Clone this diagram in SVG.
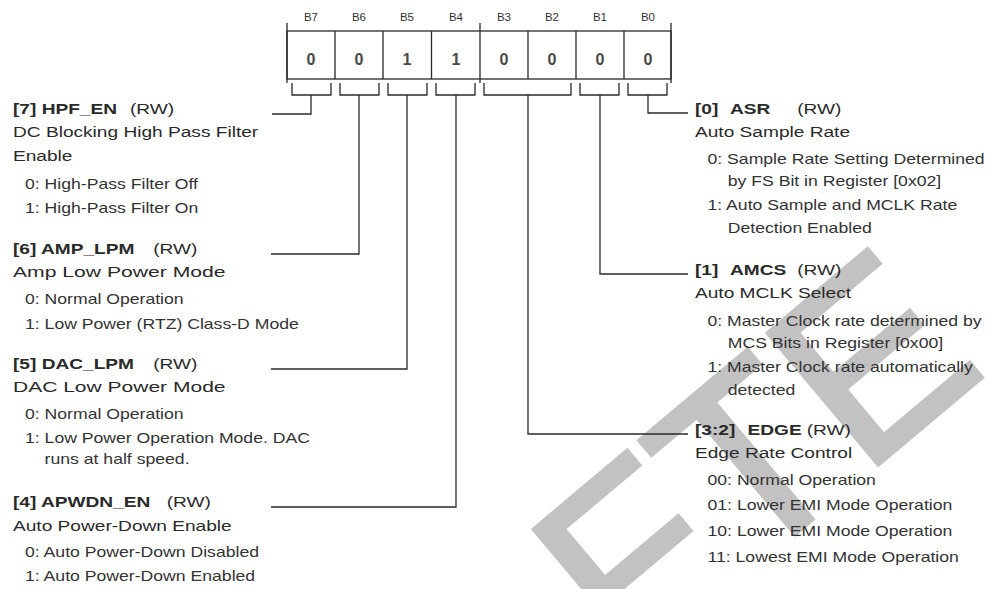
<svg xmlns="http://www.w3.org/2000/svg" width="988" height="589" viewBox="0 0 988 589">
<style>
text{font-family:"Liberation Sans",Arial,sans-serif;fill:#2a2a2a}
.m{font-size:15.3px}
.b{font-weight:bold}
.o{font-size:14.1px;fill:#333}
.bl{font-size:11.5px;text-anchor:middle;fill:#333}
.v{font-size:16px;font-weight:bold;text-anchor:middle;fill:#4a4a4a}
.ln{fill:none;stroke:#2a2a2a;stroke-width:1.3}
.wm{font-size:250px;fill:#c2c2c2;stroke:#c2c2c2;stroke-width:4;stroke-linejoin:miter}
</style>
<rect width="988" height="589" fill="#fff"/>
<g id="watermark">
<text class="wm" transform="translate(628.5,674) rotate(-40)">FTE</text>
</g>
<g id="register">
<text class="bl" x="311" y="21">B7</text>
<text class="bl" x="359" y="21">B6</text>
<text class="bl" x="407" y="21">B5</text>
<text class="bl" x="456" y="21">B4</text>
<text class="bl" x="504" y="21">B3</text>
<text class="bl" x="552" y="21">B2</text>
<text class="bl" x="600" y="21">B1</text>
<text class="bl" x="648" y="21">B0</text>
<rect class="ln" x="287" y="31" width="384" height="48"/>
<path class="ln" d="M335,31V79M383,31V79M431.5,31V79M480,31V79M528,31V79M576,31V79M624,31V79M287,23V83M480,23V83M671,23V83"/>
<text class="v" x="311" y="65">0</text>
<text class="v" x="359" y="65">0</text>
<text class="v" x="407" y="65">1</text>
<text class="v" x="456" y="65">1</text>
<text class="v" x="504" y="65">0</text>
<text class="v" x="552" y="65">0</text>
<text class="v" x="600" y="65">0</text>
<text class="v" x="648" y="65">0</text>
</g>
<g id="connectors" class="ln">
<path d="M292,83V95H331V83M311,95V114H272"/>
<path d="M340,83V95H379V83M359,95V254H271"/>
<path d="M388,83V95H427V83M407,95V369H271"/>
<path d="M436,83V95H475V83M456,95V507H271"/>
<path d="M484,83V95H571V83M528,95V434H688"/>
<path d="M580,83V95H619V83M600,95V274H688"/>
<path d="M628,83V95H667V83M648,95V113H688"/>
</g>
<g id="hpf_en" transform="translate(13,0) scale(1.25,1)">
<text class="m" y="114"><tspan class="b" x="0">[7] HPF_EN</tspan><tspan x="93.6">(RW)</tspan></text>
<text class="m" x="0" y="137.5">DC Blocking High Pass Filter</text>
<text class="m" x="0" y="161">Enable</text>
<text class="o" x="9.6" y="189">0: High-Pass Filter Off</text>
<text class="o" x="9.6" y="213.5">1: High-Pass Filter On</text>
</g>
<g id="amp_lpm" transform="translate(13,0) scale(1.25,1)">
<text class="m" y="254"><tspan class="b" x="0">[6] AMP_LPM</tspan><tspan x="112.2">(RW)</tspan></text>
<text class="m" x="0" y="277" textLength="170" lengthAdjust="spacingAndGlyphs">Amp Low Power Mode</text>
<text class="o" x="9.6" y="304">0: Normal Operation</text>
<text class="o" x="9.6" y="329">1: Low Power (RTZ) Class-D Mode</text>
</g>
<g id="dac_lpm" transform="translate(13,0) scale(1.25,1)">
<text class="m" y="369"><tspan class="b" x="0">[5] DAC_LPM</tspan><tspan x="112.2">(RW)</tspan></text>
<text class="m" x="0" y="392" textLength="170" lengthAdjust="spacingAndGlyphs">DAC Low Power Mode</text>
<text class="o" x="9.6" y="419">0: Normal Operation</text>
<text class="o" x="9.6" y="443.5">1: Low Power Operation Mode. DAC</text>
<text class="o" x="25.3" y="464">runs at half speed.</text>
</g>
<g id="apwdn_en" transform="translate(13,0) scale(1.25,1)">
<text class="m" y="507.5"><tspan class="b" x="0">[4] APWDN_EN</tspan><tspan x="123">(RW)</tspan></text>
<text class="m" x="0" y="531">Auto Power-Down Enable</text>
<text class="o" x="9.6" y="557">0: Auto Power-Down Disabled</text>
<text class="o" x="9.6" y="581">1: Auto Power-Down Enabled</text>
</g>
<g id="asr" transform="translate(695,0) scale(1.25,1)">
<text class="m" y="114.5"><tspan class="b" x="0">[0]</tspan><tspan class="b" x="28">ASR</tspan><tspan x="81.8">(RW)</tspan></text>
<text class="m" x="0" y="137">Auto Sample Rate</text>
<text class="o" x="10" y="164">0: Sample Rate Setting Determined</text>
<text class="o" x="26.2" y="186">by FS Bit in Register [0x02]</text>
<text class="o" x="10" y="210.5">1: Auto Sample and MCLK Rate</text>
<text class="o" x="26.2" y="233">Detection Enabled</text>
</g>
<g id="amcs" transform="translate(695,0) scale(1.25,1)">
<text class="m" y="275"><tspan class="b" x="0">[1]</tspan><tspan class="b" x="28">AMCS</tspan><tspan x="81.8">(RW)</tspan></text>
<text class="m" x="0" y="298">Auto MCLK Select</text>
<text class="o" x="10" y="326">0: Master Clock rate determined by</text>
<text class="o" x="26.2" y="348">MCS Bits in Register [0x00]</text>
<text class="o" x="10" y="372">1: Master Clock rate automatically</text>
<text class="o" x="26.2" y="395">detected</text>
</g>
<g id="edge" transform="translate(695,0) scale(1.25,1)">
<text class="m" y="435"><tspan class="b" x="0">[3:2]</tspan><tspan class="b" x="42">EDGE</tspan><tspan x="89.4">(RW)</tspan></text>
<text class="m" x="0" y="458">Edge Rate Control</text>
<text class="o" x="10" y="485">00: Normal Operation</text>
<text class="o" x="10" y="510.5">01: Lower EMI Mode Operation</text>
<text class="o" x="10" y="536.5">10: Lower EMI Mode Operation</text>
<text class="o" x="10" y="562.5">11: Lowest EMI Mode Operation</text>
</g>
</svg>
